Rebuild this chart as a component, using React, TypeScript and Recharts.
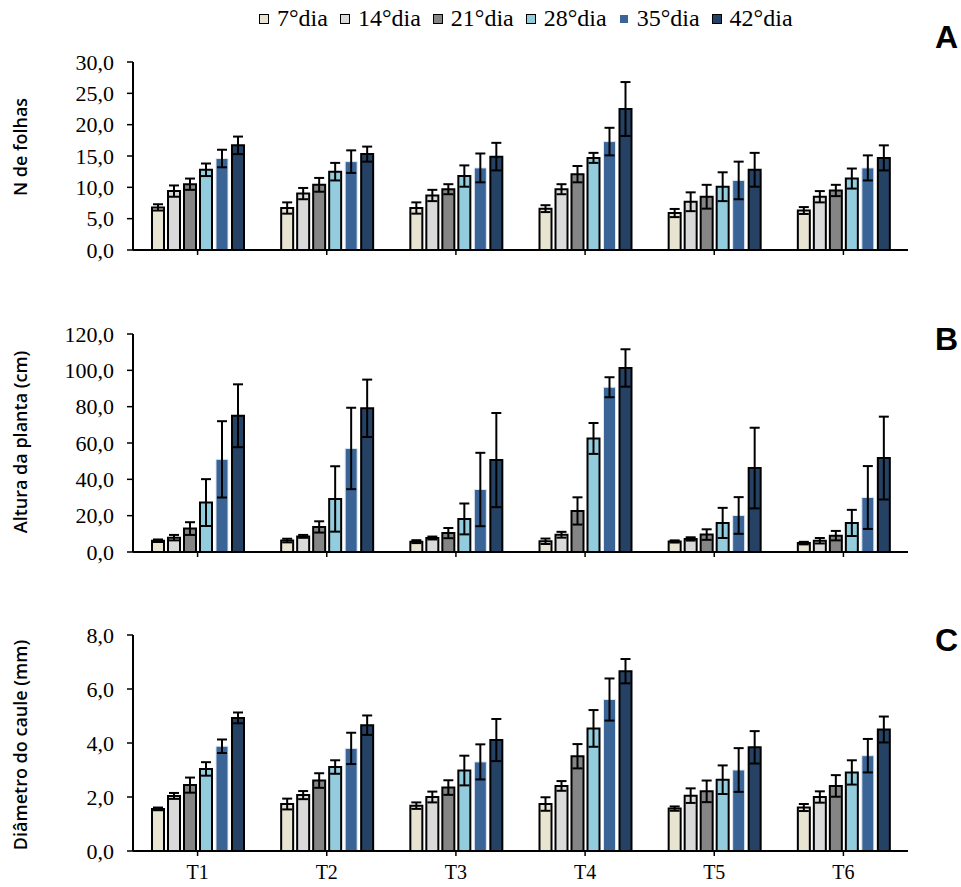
import React from 'react';
import { BarChart, Bar, XAxis, YAxis, ErrorBar, Legend } from 'recharts';

const categories = ['T1', 'T2', 'T3', 'T4', 'T5', 'T6'];
const seriesNames = ['7°dia', '14°dia', '21°dia', '28°dia', '35°dia', '42°dia'];
const seriesColors = ['#E8E4D2', '#DADADA', '#858585', '#93CDDD', '#3A6396', '#254163'];
const seriesStrokes = ['#000', '#000', '#000', '#000', '#DCE6F2', '#000'];

// Panel A - N de folhas
const leavesMean = [
  [6.8, 6.7, 6.7, 6.6, 5.9, 6.3],
  [9.4, 9.0, 8.7, 9.7, 7.7, 8.5],
  [10.5, 10.4, 9.7, 12.1, 8.5, 9.5],
  [12.8, 12.5, 11.8, 14.7, 10.1, 11.4],
  [14.6, 14.1, 13.1, 17.3, 11.1, 13.1],
  [16.7, 15.3, 14.9, 22.5, 12.8, 14.7],
];
const leavesErr = [
  [0.5, 0.9, 0.9, 0.55, 0.65, 0.55],
  [0.9, 0.9, 0.9, 0.8, 1.5, 0.9],
  [0.9, 1.1, 0.8, 1.3, 1.9, 0.9],
  [1.0, 1.4, 1.7, 0.8, 2.3, 1.6],
  [1.4, 1.8, 2.3, 2.2, 3.0, 2.0],
  [1.4, 1.2, 2.2, 4.3, 2.7, 2.0],
];

// Panel B - Altura da planta
const heightMean = [
  [6.2, 6.3, 5.7, 5.9, 5.8, 4.9],
  [7.9, 8.6, 7.7, 9.5, 7.2, 6.2],
  [12.9, 13.8, 10.4, 22.6, 9.6, 9.0],
  [27.2, 29.2, 18.2, 62.5, 16.0, 16.0],
  [51.0, 57.0, 34.4, 90.7, 20.1, 30.0],
  [75.0, 79.1, 50.6, 101.3, 46.2, 51.7],
];
const heightErr = [
  [0.7, 1.0, 0.8, 1.5, 0.6, 0.7],
  [1.5, 0.8, 0.8, 1.6, 0.9, 1.5],
  [3.5, 3.1, 2.8, 7.5, 2.9, 2.6],
  [12.9, 18.0, 8.5, 8.5, 8.3, 7.2],
  [21.0, 22.4, 20.2, 5.5, 10.1, 17.3],
  [17.3, 15.8, 25.9, 10.3, 22.2, 22.8],
];

// Panel C - Diâmetro do caule
const stemMean = [
  [1.56, 1.74, 1.68, 1.74, 1.57, 1.61],
  [2.04, 2.07, 2.0, 2.41, 2.05, 2.0],
  [2.44, 2.61, 2.35, 3.51, 2.21, 2.41],
  [3.04, 3.11, 2.98, 4.54, 2.64, 2.91],
  [3.88, 3.8, 3.3, 5.61, 3.0, 3.53],
  [4.93, 4.66, 4.11, 6.66, 3.84, 4.5],
];
const stemErr = [
  [0.05, 0.2, 0.12, 0.25, 0.08, 0.13],
  [0.11, 0.15, 0.2, 0.18, 0.27, 0.21],
  [0.28, 0.27, 0.27, 0.45, 0.4, 0.4],
  [0.25, 0.25, 0.55, 0.68, 0.53, 0.45],
  [0.25, 0.58, 0.65, 0.78, 0.81, 0.62],
  [0.2, 0.36, 0.78, 0.45, 0.6, 0.48],
];

const leavesTicks = [0, 5, 10, 15, 20, 25, 30];
const heightTicks = [0, 20, 40, 60, 80, 100, 120];
const stemTicks = [0, 2, 4, 6, 8];

function buildData(means: number[][], errs: number[][]) {
  return categories.map((c, i) => {
    const row: any = { name: c };
    seriesNames.forEach((_, s) => {
      row['v' + s] = means[s][i];
      row['e' + s] = errs[s][i];
    });
    return row;
  });
}

const fmt = (v: number) => v.toFixed(1).replace('.', ',');
const serif = '"Liberation Serif", "Times New Roman", serif';
const sans = '"Open Sans", "DejaVu Sans", sans-serif';

const LegendContent = () => (
  <div style={{ display: 'flex', alignItems: 'center', fontFamily: serif, fontSize: 24, lineHeight: '26px', color: '#000', whiteSpace: 'nowrap' }}>
    {seriesNames.map((n, i) => (
      <div key={n} style={{ display: 'flex', alignItems: 'center', marginRight: i < 5 ? 12 : 0 }}>
        <div style={{ width: 8, height: 8, background: seriesColors[i], border: i === 4 ? '1.5px solid #fff' : '1.5px solid #000', marginRight: 8, marginTop: 2 }} />
        <span>{n}</span>
      </div>
    ))}
  </div>
);

const YLabel = (props: any) => {
  const { viewBox, text, shift } = props;
  if (!viewBox) return null;
  const cx = 20;
  const cy = viewBox.y + viewBox.height / 2 + (shift || 0);
  return (
    <text
      x={cx}
      y={cy}
      transform={`rotate(-90 ${cx} ${cy})`}
      textAnchor="middle"
      dominantBaseline="central"
      fontFamily={sans}
      fontSize={18}
      fontWeight={600}
      fill="#000"
    >
      {text}
    </text>
  );
};

type PanelProps = {
  top: number;
  height: number;
  marginTop: number;
  marginBottom: number;
  means: number[][];
  errs: number[][];
  ticks: number[];
  label: string;
  labelShift: number;
  showX: boolean;
  legend?: boolean;
};

function Panel({ top, height, marginTop, marginBottom, means, errs, ticks, label, labelShift, showX, legend }: PanelProps) {
  const data = buildData(means, errs);
  return (
    <div style={{ position: 'absolute', left: 0, top, width: 961, height }}>
      <BarChart
        width={961}
        height={height}
        data={data}
        margin={{ top: marginTop, right: 53, bottom: marginBottom, left: 0 }}
        barSize={12}
        barGap={4}
      >
        <XAxis
          dataKey="name"
          height={30}
          axisLine={{ stroke: '#000', strokeWidth: 2 }}
          tickLine={{ stroke: '#000', strokeWidth: 1.5 }}
          tickSize={5}
          tickMargin={9}
          tick={{ fill: '#000', fontFamily: serif, fontSize: 20 }}
          tickFormatter={showX ? undefined : () => ''}
        />
        <YAxis
          width={133}
          domain={[ticks[0], ticks[ticks.length - 1]]}
          ticks={ticks}
          interval={0}
          axisLine={{ stroke: '#000', strokeWidth: 2 }}
          tickLine={{ stroke: '#000', strokeWidth: 1.5 }}
          tickSize={6}
          tickMargin={13}
          tick={{ fill: '#000', fontFamily: serif, fontSize: 22 }}
          tickFormatter={fmt}
          label={<YLabel text={label} shift={labelShift} />}
        />
        {legend && (
          <Legend
            verticalAlign="top"
            content={<LegendContent />}
            wrapperStyle={{ position: 'absolute', top: 5, left: 259, width: 600 }}
          />
        )}
        {seriesNames.map((n, i) => (
          <Bar
            key={n}
            dataKey={'v' + i}
            name={n}
            fill={seriesColors[i]}
            stroke={seriesStrokes[i]}
            strokeWidth={i === 4 ? 1 : 2}
            isAnimationActive={false}
          >
            <ErrorBar dataKey={'e' + i} width={5} stroke="#000" strokeWidth={2} direction="y" />
          </Bar>
        ))}
      </BarChart>
    </div>
  );
}

const letterStyle: React.CSSProperties = {
  position: 'absolute',
  left: 935,
  fontFamily: '"Liberation Sans", Arial, sans-serif',
  fontWeight: 700,
  fontSize: 32,
  lineHeight: '32px',
  color: '#000',
};

export default function App() {
  return (
    <div style={{ position: 'absolute', left: 0, top: 0, width: 961, height: 887, background: '#fff' }}>
      <Panel top={0} height={290} marginTop={36} marginBottom={10} means={leavesMean} errs={leavesErr} ticks={leavesTicks} label="N de folhas" labelShift={-9} showX={false} legend />
      <Panel top={300} height={292} marginTop={34} marginBottom={10} means={heightMean} errs={heightErr} ticks={heightTicks} label="Altura da planta (cm)" labelShift={-1} showX={false} />
      <Panel top={600} height={287} marginTop={35} marginBottom={6} means={stemMean} errs={stemErr} ticks={stemTicks} label="Diâmetro do caule (mm)" labelShift={2} showX />
      <div style={{ ...letterStyle, top: 21 }}>A</div>
      <div style={{ ...letterStyle, top: 323 }}>B</div>
      <div style={{ ...letterStyle, top: 624 }}>C</div>
    </div>
  );
}
